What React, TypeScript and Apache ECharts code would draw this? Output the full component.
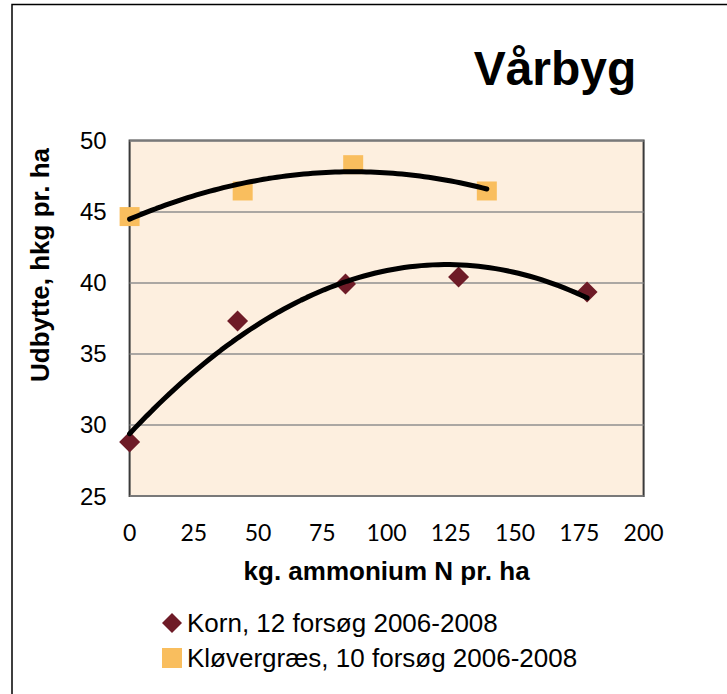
import React, { useEffect, useRef } from "react";
import * as echarts from "echarts";

const kornX = [0, 42, 84, 128, 178];
const kornY = [28.8, 37.3, 39.9, 40.4, 39.35];
const kloverX = [0, 44, 87, 139];
const kloverY = [44.65, 46.45, 48.3, 46.45];
const xTicks = [0, 25, 50, 75, 100, 125, 150, 175, 200];
const yTicks = [25, 30, 35, 40, 45, 50];
const kornName = "Korn, 12 forsøg 2006-2008";
const kloverName = "Kløvergræs, 10 forsøg 2006-2008";
const titleText = "Vårbyg";
const xTitle = "kg. ammonium N pr. ha";
const yTitle = "Udbytte, hkg pr. ha";

// Least-squares polynomial (order 2) trendline, like the spreadsheet's trendline
function quadFit(xs: number[], ys: number[]) {
  const n = xs.length;
  let s1 = 0, s2 = 0, s3 = 0, s4 = 0, sy = 0, sxy = 0, sx2y = 0;
  for (let i = 0; i < n; i++) {
    const x = xs[i], y = ys[i];
    s1 += x; s2 += x * x; s3 += x * x * x; s4 += x * x * x * x;
    sy += y; sxy += x * y; sx2y += x * x * y;
  }
  const M = [
    [n, s1, s2, sy],
    [s1, s2, s3, sxy],
    [s2, s3, s4, sx2y],
  ];
  for (let i = 0; i < 3; i++) {
    let p = i;
    for (let r = i + 1; r < 3; r++) if (Math.abs(M[r][i]) > Math.abs(M[p][i])) p = r;
    [M[i], M[p]] = [M[p], M[i]];
    for (let r = 0; r < 3; r++) {
      if (r === i) continue;
      const f = M[r][i] / M[i][i];
      for (let c = i; c < 4; c++) M[r][c] -= f * M[i][c];
    }
  }
  const a = M[0][3] / M[0][0], b = M[1][3] / M[1][1], c = M[2][3] / M[2][2];
  return (x: number) => a + b * x + c * x * x;
}

function trend(xs: number[], ys: number[]) {
  const f = quadFit(xs, ys);
  const lo = Math.min(...xs), hi = Math.max(...xs);
  const pts: number[][] = [];
  const steps = 80;
  for (let i = 0; i <= steps; i++) {
    const x = lo + ((hi - lo) * i) / steps;
    pts.push([x, f(x)]);
  }
  return pts;
}

export default function App() {
  const ref = useRef<HTMLDivElement>(null);
  useEffect(() => {
    document.body.style.margin = "0";
    const chart = echarts.init(ref.current!, undefined, { renderer: "svg" });
    const arial = "'Liberation Sans', Arial, sans-serif";
    const calib = "Lato, 'Open Sans', sans-serif";
    chart.setOption({
      animation: false,
      backgroundColor: "#ffffff",
      grid: {
        left: 129.6,
        top: 140.5,
        width: 514,
        height: 355.5,
        show: true,
        backgroundColor: "#FDEFDF",
        borderColor: "#3a3a3a",
        borderWidth: 2,
      },
      xAxis: {
        type: "value",
        min: 0,
        max: 200,
        interval: 25,
        axisLine: { show: false },
        axisTick: { show: false },
        splitLine: { show: false },
        axisLabel: {
          color: "#000",
          fontFamily: calib,
          fontSize: 23,
          margin: 24,
          formatter: (v: number) => (xTicks.includes(v) ? String(v) : ""),
        },
      },
      yAxis: {
        type: "value",
        min: 25,
        max: 50,
        interval: 5,
        axisLine: { show: false },
        axisTick: { show: false },
        splitLine: { show: true, lineStyle: { color: "#8f8f8f", width: 1.5 } },
        axisLabel: {
          color: "#000",
          fontFamily: arial,
          fontSize: 24,
          margin: 23,
          formatter: (v: number) => (yTicks.includes(v) ? String(v) : ""),
        },
      },
      legend: {
        orient: "vertical",
        left: 157,
        top: 605,
        itemWidth: 20,
        itemHeight: 20,
        itemGap: 9,
        data: [
          { name: kornName, icon: "diamond" },
          { name: kloverName, icon: "rect" },
        ],
        textStyle: { fontFamily: arial, fontSize: 26, color: "#000" },
      },
      graphic: [
        {
          type: "rect",
          shape: { x: 12, y: 4.5, width: 900, height: 900 },
          style: { fill: "none", stroke: "#000", lineWidth: 1.5 },
          silent: true,
        },
        {
          type: "text",
          x: 555,
          y: 68,
          style: {
            text: titleText,
            fontFamily: arial,
            fontWeight: "bold",
            fontSize: 48,
            fill: "#000",
            align: "center",
            verticalAlign: "middle",
          },
        },
        {
          type: "text",
          x: 386.6,
          y: 571,
          style: {
            text: xTitle,
            fontFamily: arial,
            fontWeight: "bold",
            fontSize: 26,
            fill: "#000",
            align: "center",
            verticalAlign: "middle",
          },
        },
        {
          type: "text",
          x: 40,
          y: 265,
          rotation: Math.PI / 2,
          style: {
            text: yTitle,
            fontFamily: arial,
            fontWeight: "bold",
            fontSize: 26,
            fill: "#000",
            align: "center",
            verticalAlign: "middle",
          },
        },
      ],
      series: [
        {
          name: kornName,
          type: "scatter",
          symbol: "diamond",
          symbolSize: [21, 21],
          itemStyle: { color: "#6E1B27", opacity: 1 },
          data: kornX.map((x, i) => [x, kornY[i]]),
          z: 2,
        },
        {
          name: kloverName,
          type: "scatter",
          symbol: "rect",
          symbolSize: [20, 19],
          itemStyle: { color: "#F9BE5E", opacity: 1 },
          data: kloverX.map((x, i) => [x, kloverY[i]]),
          z: 2,
        },
        {
          name: "trend-korn",
          type: "line",
          showSymbol: false,
          symbol: "none",
          data: trend(kornX, kornY),
          lineStyle: { color: "#000", width: 5, cap: "round" },
          z: 3,
          silent: true,
        },
        {
          name: "trend-klover",
          type: "line",
          showSymbol: false,
          symbol: "none",
          data: trend(kloverX, kloverY),
          lineStyle: { color: "#000", width: 5, cap: "round" },
          z: 3,
          silent: true,
        },
      ],
    });
    return () => chart.dispose();
  }, []);
  return <div ref={ref} style={{ width: 727, height: 694 }} />;
}
